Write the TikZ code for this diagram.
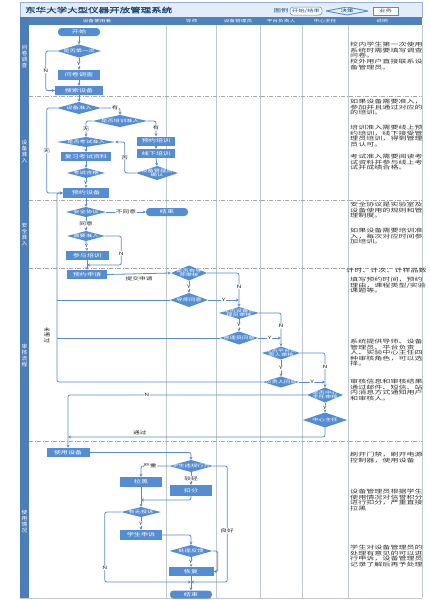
\documentclass[tikz,border=0pt]{standalone}
\usepackage{fontspec}
\setmainfont{Noto Sans CJK SC}
\newfontfamily\cjks[FakeStretch=1.5]{Noto Sans CJK SC}
\newfontfamily\cjkd[FakeStretch=1.55]{Noto Sans CJK SC}
\newfontfamily\cjkt[FakeStretch=1.5,FakeBold=1.5]{Noto Sans CJK SC}
\newfontfamily\cjkv[FakeStretch=1.1]{Noto Sans CJK SC}
\usetikzlibrary{arrows.meta,calc}
\definecolor{nb}{HTML}{548DD4}
\definecolor{ln}{HTML}{5A8CCC}
\definecolor{hd}{HTML}{4F81BD}
\definecolor{strip}{HTML}{4A7EBB}
\definecolor{tt}{HTML}{1F497D}
\definecolor{tbar}{HTML}{E4ECF7}
\definecolor{tbord}{HTML}{95B3D7}
\definecolor{colln}{HTML}{C0C8D4}
\definecolor{rowln}{HTML}{A6A6A6}
\tikzset{
 sz/.style 2 args={minimum width=#1pt, minimum height=#2pt},
 box/.style={rectangle, fill=nb, text=white, inner sep=0pt, align=center, font=\cjks\fontsize{4.7}{5.4}\selectfont},
 term/.style={box, rounded corners=3.5pt},
 dec/.style={rectangle, inner sep=0pt, text=white, align=center, font=\cjks\fontsize{4.2}{4.7}\selectfont,
   path picture={\fill[nb] (path picture bounding box.west) -- (path picture bounding box.north) -- (path picture bounding box.east) -- (path picture bounding box.south) -- cycle;}},
 conn/.style={draw=ln, line width=0.8pt, rounded corners=2pt},
 arr/.style={conn, -{Stealth[length=3pt,width=3pt]}},
 lbl/.style={font=\cjks\fontsize{4.5}{5}\selectfont, text=black!85, inner sep=0.6pt, fill=white},
 desc/.style={anchor=north west, align=left, inner sep=0pt, font=\cjkd\fontsize{5.2}{5.6}\selectfont, text=black!80},
 rowlab/.style={text=white, align=center, inner sep=0pt, font=\cjkv\fontsize{5.2}{6}\selectfont},
 colhead/.style={text=white, inner sep=0pt, font=\cjks\fontsize{3.8}{4}\selectfont},
 legend/.style={draw=ln, line width=0.5pt, fill=white, text=tt, inner sep=0pt, font=\cjks\fontsize{4.3}{5}\selectfont},
}
\begin{document}
\begin{tikzpicture}[x=1pt,y=-1pt]
\useasboundingbox (0,0) rectangle (429,600);
\fill[white] (0,0) rectangle (429,600);
% title bar
\draw[tbord, fill=tbar, line width=0.6pt] (20,2) rectangle (422,17);
\node[anchor=west, text=tt, inner sep=0pt, font=\cjkt\fontsize{7}{8}\selectfont] (title) at (25,10) {东华大学大型仪器开放管理系统};
\node[text=tt, inner sep=0pt, font=\cjks\fontsize{4.8}{5}\selectfont] (lgtitle) at (281,11) {图例};
\node[legend, rounded corners=3pt, sz={32}{8}] (lgt) at (306,11) {开始/结束};
\node[legend, draw=none, fill=none, sz={42}{8},
  path picture={\draw[ln, line width=0.9pt] (path picture bounding box.west) -- (path picture bounding box.north) -- (path picture bounding box.east) -- (path picture bounding box.south) -- cycle;}] (lgd) at (347,11) {决策};
\node[legend, sz={25}{8}] (lgb) at (385.5,11) {业务};
% header and strip
\fill[hd] (20,17) rectangle (422,25);
\fill[strip] (20,17) rectangle (29,598);
\node[colhead] (h1) at (97,21) {设备使用者};
\node[colhead] (h2) at (191.5,21) {导师};
\node[colhead] (h3) at (238,21) {设备管理员};
\node[colhead] (h4) at (281,21) {平台负责人};
\node[colhead] (h5) at (325,21) {中心主任};
\node[colhead] (h6) at (382,21) {说明};
% column lines
\foreach \cx in {166.5,216.5,260,302,348} \draw[colln, line width=0.6pt] (\cx,25) -- (\cx,598);
\draw[colln, line width=0.6pt] (422,25) -- (422,598);
\draw[colln, line width=0.8pt] (20,598) -- (422,598);
% row separators
\foreach \ry in {96,200,268,441} \draw[rowln, line width=0.5pt, dash pattern=on 4pt off 1.5pt on 1pt off 1.5pt] (29,\ry) -- (422,\ry);
% row labels
\node[rowlab] (r1) at (24.5,56) {问\\卷\\调\\查};
\node[rowlab] (r2) at (24.5,152) {设\\备\\准\\入};
\node[rowlab] (r3) at (24.5,234) {安\\全\\准\\入};
\node[rowlab] (r4) at (24.5,355) {审\\核\\流\\程};
\node[rowlab] (r5) at (24.5,522) {使\\用\\情\\况};

% ---------- row 1
\node[term, sz={42}{8}] (start) at (79,32) {开始};
\node[dec, sz={44}{13}] (d1) at (79,51) {是否第一次};
\node[box, sz={42}{10}] (q) at (79,75) {问卷调查};
\node[box, sz={48}{9}] (search) at (79,90.5) {搜索设备};
\draw[arr] (start.south) -- (d1.north);
\draw[arr] (d1.south) -- node[lbl]{Y} (q.north);
\draw[arr] (q.south) -- (search.north);
\draw[arr] (d1.west) -- ++(-11,0) |- node[lbl,pos=0.25]{N} (search.west);

% ---------- row 2
\node[dec, sz={44}{12}] (d2) at (79,108) {设备准入};
\node[dec, sz={55}{12}] (d3) at (120,121) {是否培训准入};
\node[dec, sz={58}{10}] (d4) at (86,142) {是否考试准入};
\node[box, sz={50}{9}] (rev) at (86,156.5) {复习考试资料};
\node[dec, sz={38}{10}] (d5) at (86,173) {考试合格};
\node[box, sz={46}{10}] (book) at (86,193) {预约设备};
\node[box, sz={38}{9}] (tr1) at (156,141) {预约培训};
\node[box, sz={38}{9}] (tr2) at (156,153.5) {线下培训};
\node[dec, sz={42}{14}] (d6) at (157,173) {设备管理员\\确认};
\draw[arr] (search.south) -- (d2.north);
\draw[arr] (d2.east) -| node[lbl,pos=0.37]{有} (d3.north);
\draw[arr] (d3.west) -| node[lbl,pos=0.75]{无} (d4.north);
\draw[arr] (d3.east) -| node[lbl,pos=0.72]{有} (tr1.north);
\draw[arr] (d4.south) -- (rev.north);
\draw[arr] (rev.south) -- (d5.north);
\draw[arr] (d5.south) -- node[lbl]{Y} (book.north);
\draw[arr] (tr1.south) -- (tr2.north);
\draw[arr] (tr2.south) -- (d6.north);
\draw[arr] (d6.west) -- ++(-11,0) |- node[lbl,pos=0.25]{否} (d4.east);
\draw[arr] (d2.west) -- ++(-10,0) |- node[lbl,pos=0.25]{无} (book.west);

% ---------- row 3
\node[dec, sz={40}{10}] (d7) at (86,212) {安全协议};
\node[term, sz={42}{8}] (end1) at (167,212) {结束};
\node[dec, sz={38}{10}] (d8) at (86,236) {需要准入};
\node[box, sz={43}{9}] (tr3) at (87,255.5) {参与培训};
\node[box, sz={40}{9}] (apply) at (87,274.5) {预约申请};
\coordinate (j1) at (87,265);
\draw[arr] (book.south) -- (d7.north);
\draw[arr] (d7.east) -- node[lbl]{不同意} (end1.west);
\draw[arr] (d7.south) -- node[lbl]{同意} (d8.north);
\draw[arr] (d8.south) -- node[lbl]{Y} (tr3.north);
\draw[arr] (tr3.south) -- (apply.north);
\draw[arr] (d8.east) -- ++(16,0) |- node[lbl,pos=0.3]{N} (j1);

% ---------- row 4
\node[dec, sz={36}{15}] (a1) at (189,273) {是否有导\\师审核};
\node[dec, sz={38}{14}] (a2) at (189,300) {导师同意};
\node[dec, sz={40}{12}] (b1) at (239,313) {是否设备管\\理员审核};
\node[dec, sz={38}{13}] (b2) at (239,338) {管理员同意};
\node[dec, sz={38}{13}] (c1) at (281,353) {是否平台负\\责人审核};
\node[dec, sz={36}{11}] (c2) at (281,382) {负责人同意};
\node[dec, sz={36}{15}] (e1) at (325,395) {是否中心\\主任审核};
\node[dec, sz={44}{15}] (e2) at (325,420) {中心主任};
\node[box, sz={43}{9}] (use) at (68,452.5) {使用设备};
\coordinate (ja) at (239,300);
\coordinate (jb) at (281,338);
\coordinate (jc) at (325,382);
\coordinate (j3) at (68,437);
\draw[arr] (apply.east) -- node[lbl, fill=none, below=2pt]{提交申请} (a1.west);
\draw[arr] (a1.east) -| node[lbl,pos=0.7]{N} (b1.north);
\draw[arr] (a1.south) -- node[lbl]{Y} (a2.north);
\draw[arr] (a2.east) -- node[lbl]{Y} (ja);
\draw[arr] (b1.east) -| node[lbl,pos=0.7]{N} (c1.north);
\draw[arr] (b1.south) -- node[lbl]{Y} (b2.north);
\draw[arr] (b2.east) -- node[lbl]{Y} (jb);
\draw[arr] (c1.east) -| node[lbl,pos=0.7]{N} (e1.north);
\draw[arr] (c1.south) -- node[lbl]{Y} (c2.north);
\draw[arr] (c2.east) -- node[lbl]{Y} (jc);
\draw[arr] (e1.south) -- node[lbl]{Y} (e2.north);
\draw[conn] (a2.west) -- (57,300);
\draw[conn] (b2.west) -- (57,338);
\draw[arr] (c2.west) -| (57,193) -- (book.west);
\node[lbl, fill=none, align=center, font=\cjks\fontsize{4.5}{5.6}\selectfont] (nopass) at (47,335) {未\\通\\过};
\draw[arr] (e1.west) -| node[lbl,pos=0.335]{N} (use.north);
\draw[arr] (e2.south) |- node[lbl, fill=none, above=1pt, pos=0.86]{通过} (j3);

% ---------- row 5
\node[dec, sz={44}{12}] (f1) at (191,466) {学生违规行为};
\node[box, sz={42}{10}] (blk) at (141,482) {拉黑};
\node[box, sz={42}{11}] (minus) at (191,490.5) {扣分};
\node[dec, sz={40}{10}] (g1) at (141,512) {有无投诉};
\node[box, sz={42}{10}] (app) at (141,535) {学生申诉};
\node[dec, sz={43}{12}] (hh) at (191,551) {处理反馈};
\node[box, sz={45}{9}] (fix) at (191,571.5) {恢复};
\node[term, sz={42}{8}] (end2) at (191,594.5) {结束};
\coordinate (j2) at (191,582);
\coordinate (j4) at (141,500);
\draw[arr] (use.east) -| (f1.north);
\draw[arr] (f1.west) -| node[lbl,pos=0.34]{严重} (blk.north);
\draw[arr] (f1.south) -- node[lbl]{较轻} (minus.north);
\draw[arr] (blk.south) -- (g1.north);
\draw[arr] (minus.south) |- (j4);
\draw[arr] (g1.south) -- node[lbl]{Y} (app.north);
\draw[arr] (g1.west) -- ++(-16,0) |- node[lbl,pos=0.4]{N} (j2);
\draw[arr] (app.east) -| (hh.north);
\draw[arr] (hh.south) -- node[lbl]{Y} (fix.north);
\draw[arr] (hh.east) -- ++(5,0) |- (fix.east);
\draw[arr] (f1.east) -- ++(14,0) |- node[lbl,pos=0.28]{良好} (j2);
\draw[arr] (fix.south) -- (end2.north);

% ---------- descriptions
\node[desc] (t1) at (350,42) {校内学生第一次使用\\系统时需要填写调查\\问卷。\\校外用户直接联系设\\备管理员。};
\node[desc] (t2) at (350,99) {如果设备需要准入，\\参加并且通过对应的\\的培训。};
\node[desc] (t3) at (350,125) {培训准入需要线上预\\约培训，线下接受管\\理员培训，得到管理\\员认可。};
\node[desc] (t4) at (350,154) {考试准入需要阅读考\\试资料并参与线上考\\试并成绩合格。};
\node[desc] (t5) at (350,202) {安全协议是实验室及\\设备使用的规则和管\\理制度。};
\node[desc] (t6) at (350,228) {如果设备需要培训准\\入，每次对应时间参\\加培训。};
\node[desc] (t7) at (346,268) {计时、计次、计样品数};
\node[desc] (t8) at (350,277) {填写预约时间，预约\\理由，课程类型/实验\\课题等。};
\node[desc] (t9) at (350,339) {系统提供导师、设备\\管理员、平台负责\\人、实验中心主任四\\种审核角色，可以选\\择。};
\node[desc] (t10) at (350,379) {审核信息和审核结果\\通过邮件、短信、站\\内消息方式通知用户\\和审核人。};
\node[desc] (t11) at (350,452) {刷开门禁，刷开电源\\控制器，使用设备};
\node[desc] (t12) at (350,489) {设备管理员根据学生\\使用情况对信誉积分\\进行扣分，严重直接\\拉黑};
\node[desc] (t13) at (350,545) {学生对设备管理员的\\处理有意见的可以进\\行申诉，设备管理员\\记录了解后再予处理};
\end{tikzpicture}
\end{document}
